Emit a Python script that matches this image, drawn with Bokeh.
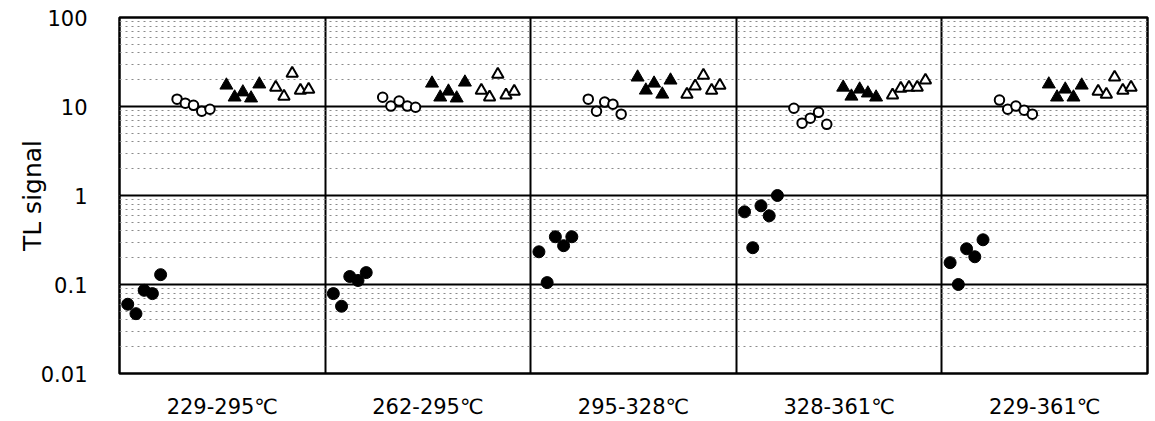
from bokeh.plotting import figure
from bokeh.models import FixedTicker, LogTicker
from bokeh.embed import file_html
from bokeh.resources import INLINE

panels = ["229-295\u2103", "262-295\u2103", "295-328\u2103", "328-361\u2103", "229-361\u2103"]

filled_circles = [
    [0.060, 0.047, 0.086, 0.079, 0.129],
    [0.079, 0.057, 0.123, 0.111, 0.136],
    [0.233, 0.105, 0.344, 0.273, 0.344],
    [0.655, 0.259, 0.766, 0.591, 1.00],
    [0.176, 0.100, 0.252, 0.205, 0.318],
]
open_circles = [
    [12.1, 10.9, 10.3, 8.85, 9.3],
    [12.7, 10.1, 11.5, 10.1, 9.8],
    [12.1, 8.85, 11.2, 10.6, 8.2],
    [9.57, 6.5, 7.4, 8.6, 6.3],
    [11.8, 9.3, 10.1, 9.1, 8.2],
]
filled_triangles = [
    [17.3, 12.7, 14.5, 12.4, 17.8],
    [18.2, 12.7, 14.8, 12.4, 18.7],
    [21.3, 15.2, 18.2, 13.7, 19.7],
    [16.4, 13.0, 15.6, 14.1, 12.7],
    [17.8, 12.7, 15.6, 12.7, 17.3],
]
open_triangles = [
    [16.4, 13.0, 23.6, 15.2, 15.6],
    [15.2, 12.7, 23.0, 13.4, 14.8],
    [13.7, 16.9, 22.4, 15.2, 17.3],
    [13.4, 16.0, 16.4, 16.4, 19.7],
    [14.8, 13.7, 21.3, 15.2, 16.4],
]
y_ticks = [0.01, 0.1, 1, 10, 100]
y_tick_labels = ["0.01", "0.1", "1", "10", "100"]
y_title = "TL signal"

PANEL = 25
FONT = "DejaVu Sans"

p = figure(width=1153, height=421, y_axis_type="log",
           x_range=(-1, 5 * PANEL - 1), y_range=(0.01, 100),
           output_backend="svg", toolbar_location=None,
           min_border_left=119, min_border_right=6,
           min_border_top=17, min_border_bottom=47)
p.background_fill_color = "white"
p.border_fill_color = "white"
p.outline_line_color = "black"
p.outline_line_width = 2.5

# x axis: panel labels
centers = [i * PANEL + (PANEL - 2) / 2 for i in range(5)]
p.xaxis.ticker = FixedTicker(ticks=centers)
p.xaxis.major_label_overrides = {c: lab for c, lab in zip(centers, panels)}
p.xaxis.axis_line_color = None
p.xaxis.major_tick_line_color = None
p.xaxis.minor_tick_line_color = None
p.xaxis.major_label_text_font = FONT
p.xaxis.major_label_text_font_size = "21px"
p.xaxis.major_label_text_color = "black"
p.xaxis.major_label_standoff = 15

# vertical panel dividers
p.xgrid.ticker = FixedTicker(ticks=[i * PANEL + PANEL - 1 for i in range(4)])
p.xgrid.grid_line_color = "black"
p.xgrid.grid_line_width = 2

# y axis
p.yaxis.ticker = LogTicker(num_minor_ticks=10)
p.yaxis.major_label_overrides = {t: l for t, l in zip(y_ticks, y_tick_labels)}
p.yaxis.axis_line_color = None
p.yaxis.major_tick_line_color = None
p.yaxis.minor_tick_line_color = None
p.yaxis.major_label_text_font = FONT
p.yaxis.major_label_text_font_size = "21px"
p.yaxis.major_label_text_color = "black"
p.yaxis.major_label_standoff = 26
p.yaxis.axis_label = y_title
p.yaxis.axis_label_text_font = FONT
p.yaxis.axis_label_text_font_size = "25px"
p.yaxis.axis_label_text_font_style = "normal"
p.yaxis.axis_label_text_color = "black"
p.yaxis.axis_label_standoff = -9

p.ygrid.grid_line_color = "black"
p.ygrid.grid_line_width = 1.8
p.ygrid.minor_grid_line_color = "#8a8a8a"
p.ygrid.minor_grid_line_width = 1
p.ygrid.minor_grid_line_dash = "2 4"

def xs_for(panel, offset):
    return [panel * PANEL + offset + i for i in range(5)]

fcx, fcy, ocx, ocy, ftx, fty, otx, oty = [], [], [], [], [], [], [], []
for k in range(5):
    fcx += xs_for(k, 0); fcy += filled_circles[k]
    ocx += xs_for(k, 6); ocy += open_circles[k]
    ftx += xs_for(k, 12); fty += filled_triangles[k]
    otx += xs_for(k, 18); oty += open_triangles[k]

p.scatter(fcx, fcy, marker="circle", size=12, fill_color="black", line_color="black")
p.scatter(ocx, ocy, marker="circle", size=9.5, fill_color="white", line_color="black", line_width=2)
p.scatter(ftx, fty, marker="triangle", size=13, fill_color="black", line_color="black")
p.scatter(otx, oty, marker="triangle", size=11.5, fill_color="white", line_color="black", line_width=2)

open("out.html", "w").write(file_html(p, INLINE))
